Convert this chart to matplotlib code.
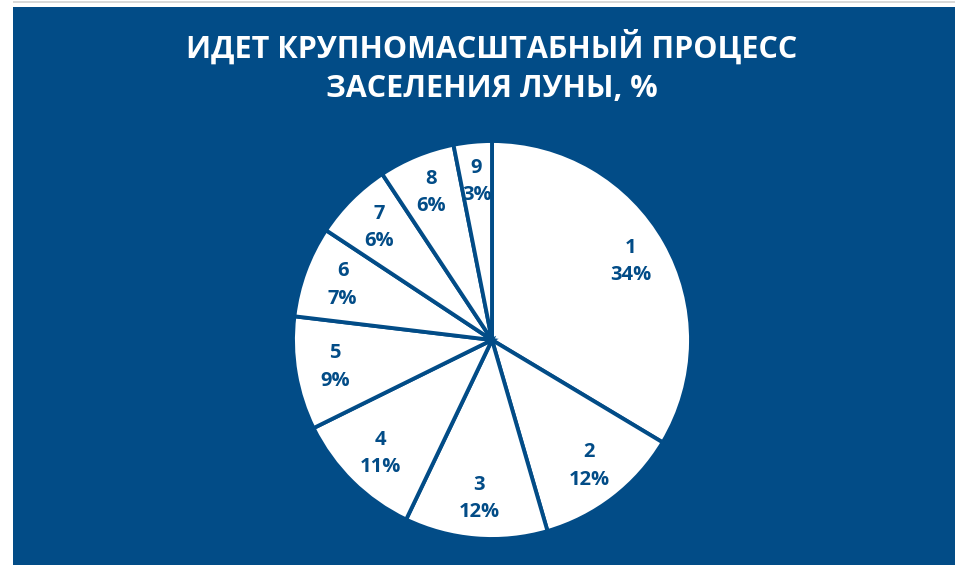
import matplotlib
matplotlib.use("Agg")
import matplotlib.pyplot as plt
from matplotlib.patches import Rectangle
import numpy as np

title = "ИДЕТ КРУПНОМАСШТАБНЫЙ ПРОЦЕСС\nЗАСЕЛЕНИЯ ЛУНЫ, %"
categories = ["1", "2", "3", "4", "5", "6", "7", "8", "9"]
values = [33.6, 11.9, 11.6, 10.6, 9.2, 7.4, 6.4, 6.2, 3.1]

BLUE = "#024C87"
W, H = 955, 565
fig = plt.figure(figsize=(W / 100, H / 100), dpi=100, facecolor="white")

# blue background panel
fig.patches.append(Rectangle((13 / W, 0), 1 - 13 / W, 1 - 7 / H,
                             transform=fig.transFigure, facecolor=BLUE,
                             edgecolor="none", zorder=-2))
# thin grey line on top
fig.patches.append(Rectangle((13 / W, 1 - 3 / H), 1 - 13 / W, 1.5 / H,
                             transform=fig.transFigure, facecolor="#d9d9d9",
                             edgecolor="none", zorder=-2))

fig.text(492 / W, 1 - 67 / H, title, ha="center", va="center", color="white",
         fontsize=22, fontweight="bold", family=["Open Sans", "DejaVu Sans"],
         linespacing=1.4, zorder=5)

cx, cy, r = 492, 565 - 340, 199
ax = fig.add_axes([(cx - r) / W, (cy - r) / H, 2 * r / W, 2 * r / H], zorder=2)
ax.set_facecolor("none")
wedges, _ = ax.pie(values, startangle=90, counterclock=False,
                   colors=["white"] * len(values),
                   wedgeprops=dict(edgecolor=BLUE, linewidth=2.8))
ax.set_aspect("equal")
ax.set_xlim(-1, 1)
ax.set_ylim(-1, 1)

total = sum(values)
for w, name, v in zip(wedges, categories, values):
    ang = np.deg2rad((w.theta1 + w.theta2) / 2)
    d = 0.8
    ax.text(d * np.cos(ang), d * np.sin(ang), f"{name}\n{round(100 * v / total)}%",
            ha="center", va="center", color=BLUE, fontsize=14.5,
            fontweight="bold", family=["Open Sans", "DejaVu Sans"],
            linespacing=1.5)

fig.savefig("out.png", dpi=100, facecolor="white")
